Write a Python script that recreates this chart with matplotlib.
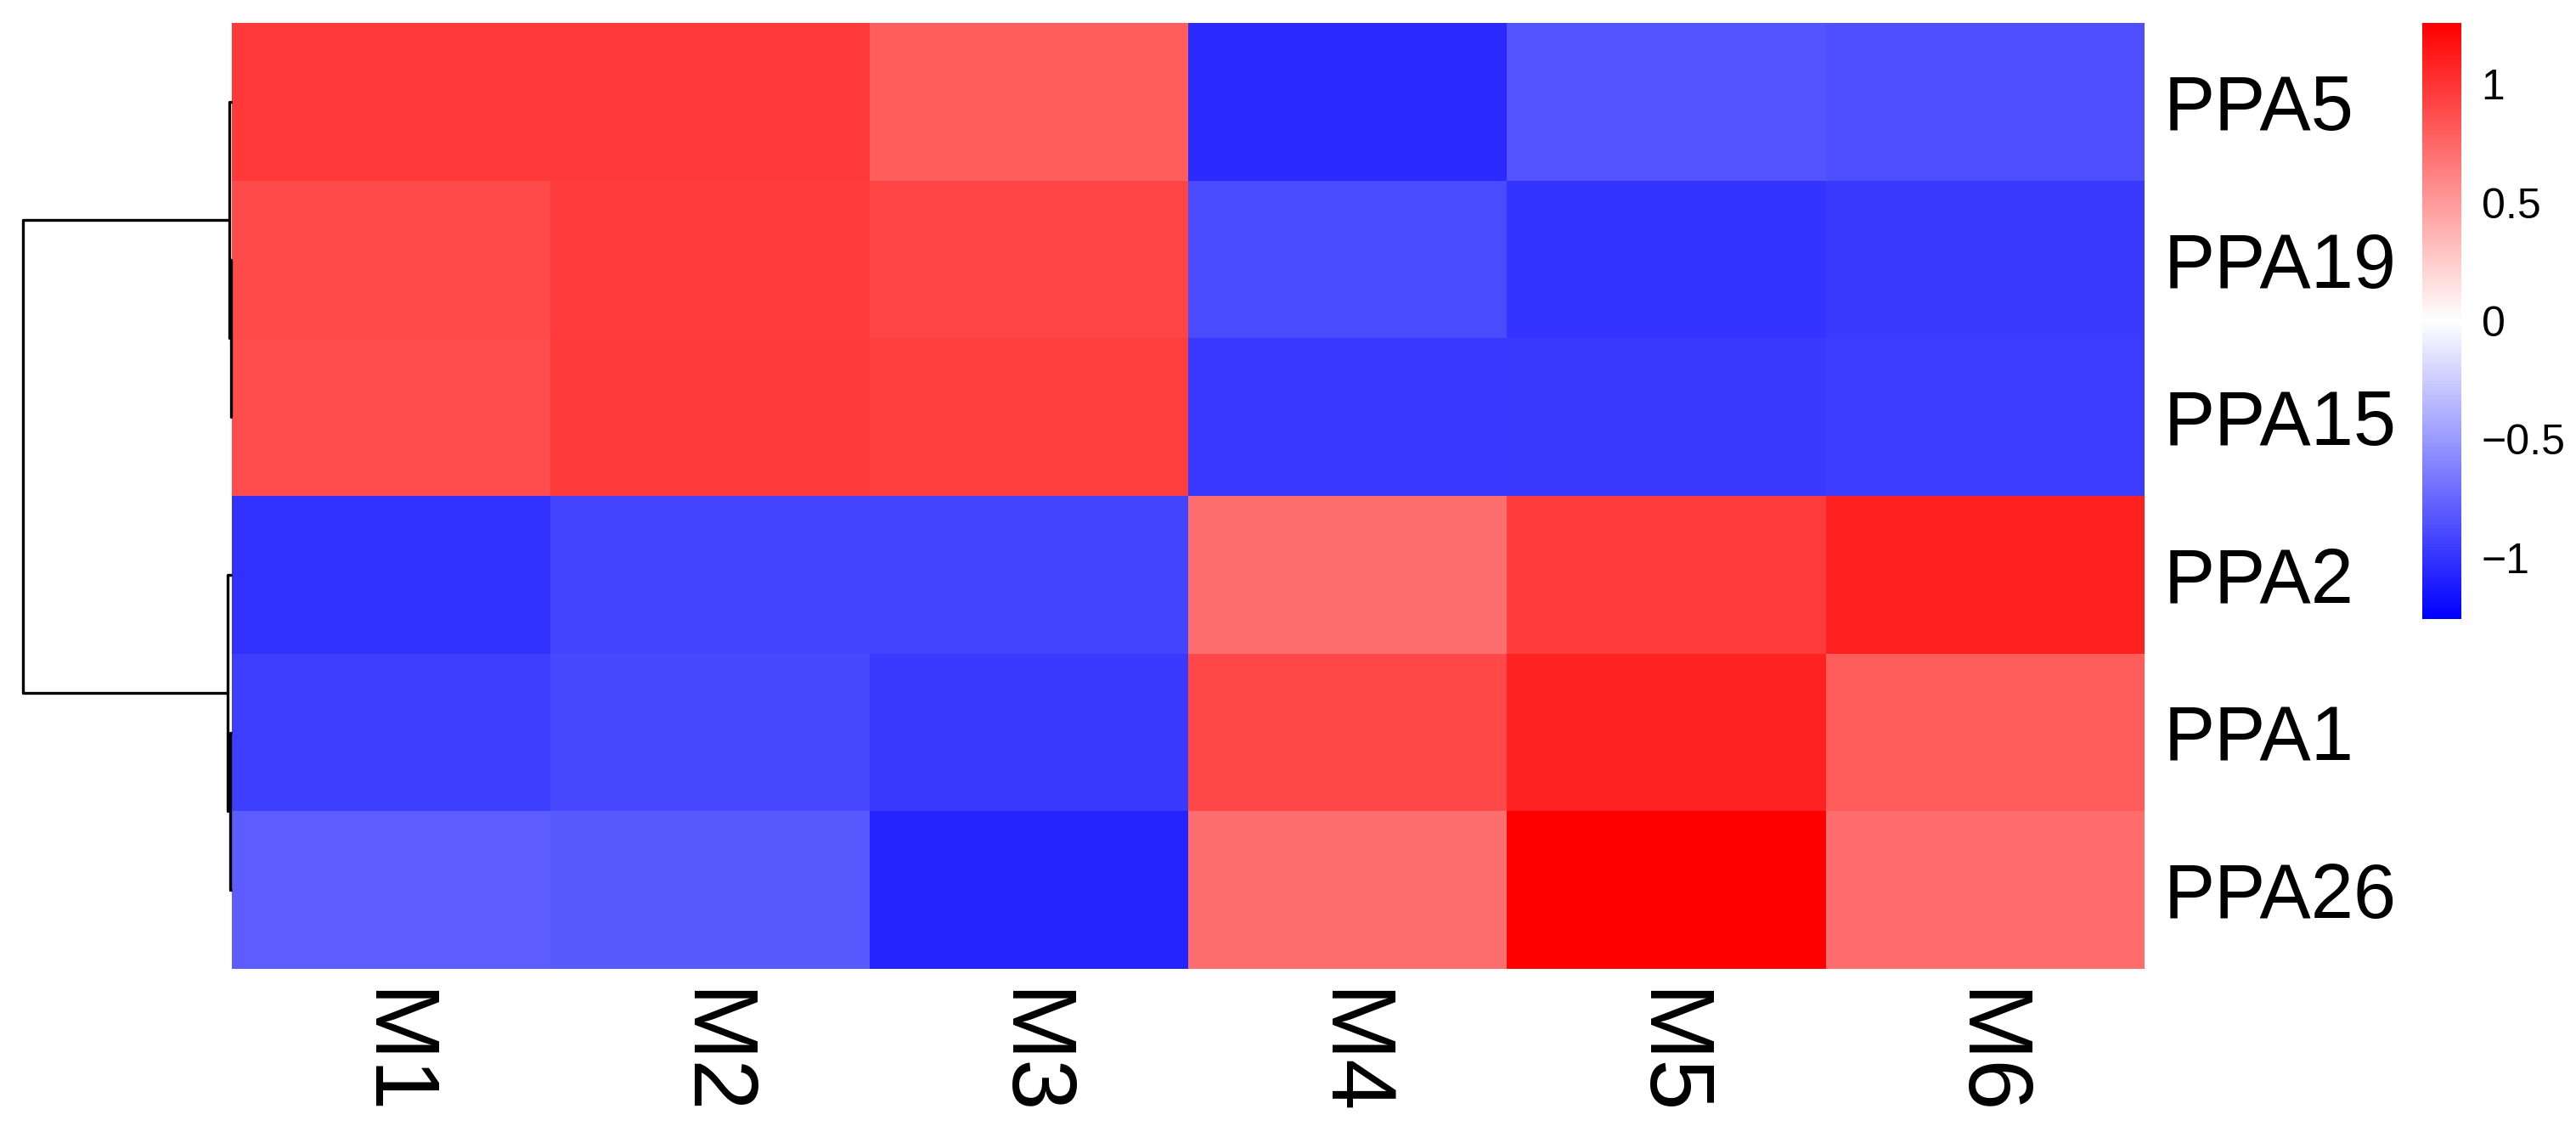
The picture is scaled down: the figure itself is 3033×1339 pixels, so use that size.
import numpy as np
import matplotlib
matplotlib.use("Agg")
import matplotlib.pyplot as plt
from matplotlib.colors import LinearSegmentedColormap

plt.rcParams['font.family'] = ['Liberation Sans', 'DejaVu Sans']

genes = ['PPA5', 'PPA19', 'PPA15', 'PPA2', 'PPA1', 'PPA26']
samples = ['M1', 'M2', 'M3', 'M4', 'M5', 'M6']

# row-scaled expression
ppa5 = [0.98, 0.98, 0.80, -1.05, -0.84, -0.87]
ppa19 = [0.89, 0.96, 0.92, -0.89, -1.00, -0.97]
ppa15 = [0.88, 0.97, 0.95, -0.98, -0.97, -0.96]
ppa2 = [-1.02, -0.92, -0.92, 0.71, 0.96, 1.10]
ppa1 = [-0.95, -0.90, -0.97, 0.90, 1.09, 0.80]
ppa26 = [-0.80, -0.82, -1.08, 0.71, 1.26, 0.72]

# row dendrogram: (child a, child b, height); leaves 0..5, new nodes 6..
merges = [(1, 2, 0.005), (0, 6, 0.012), (4, 5, 0.010), (3, 8, 0.02), (7, 9, 1.0)]

cbar_ticks = [-1, -0.5, 0, 0.5, 1]
vlim = 1.26

data = np.array([ppa5, ppa19, ppa15, ppa2, ppa1, ppa26])
cmap = LinearSegmentedColormap.from_list('bwr_ph', ['#0000ff', '#ffffff', '#ff0000'])

W, H = 3033, 1339
fig = plt.figure(figsize=(W / 100, H / 100), dpi=100)

def box(x0, y0, x1, y1):
    return [x0 / W, 1 - y1 / H, (x1 - x0) / W, (y1 - y0) / H]

ax = fig.add_axes(box(273, 27, 2525, 1141))
mesh = ax.pcolormesh(np.arange(7), np.arange(7), data, cmap=cmap, vmin=-vlim, vmax=vlim)
ax.set_xlim(0, 6)
ax.set_ylim(6, 0)
for s in ax.spines.values():
    s.set_visible(False)
ax.set_xticks(np.arange(6) + 0.5)
ax.set_xticklabels(samples, rotation=270, fontsize=78)
ax.yaxis.tick_right()
ax.set_yticks(np.arange(6) + 0.5)
ax.set_yticklabels(genes, fontsize=65)
ax.tick_params(axis='x', length=0, pad=17)
ax.tick_params(axis='y', length=0, pad=16)

# dendrogram
dax = fig.add_axes(box(27, 27, 273, 1141))
dax.set_xlim(1.0, 0)
dax.set_ylim(6, 0)
dax.axis('off')
pos = {i: i + 0.5 for i in range(6)}
hgt = {i: 0.0 for i in range(6)}
for k, (a, b, h) in enumerate(merges):
    node = 6 + k
    dax.plot([hgt[a], h, h, hgt[b]], [pos[a], pos[a], pos[b], pos[b]],
             color='black', lw=2.4, clip_on=False, solid_capstyle='butt')
    pos[node] = (pos[a] + pos[b]) / 2
    hgt[node] = h

# colour key
cax = fig.add_axes(box(2852, 27, 2898, 729))
cb = fig.colorbar(mesh, cax=cax, ticks=cbar_ticks)
cb.outline.set_visible(False)
cb.ax.set_yticklabels(['\u22121', '\u22120.5', '0', '0.5', '1'])
cb.ax.tick_params(length=0, pad=17, labelsize=36)

fig.savefig('out.png', dpi=100)
